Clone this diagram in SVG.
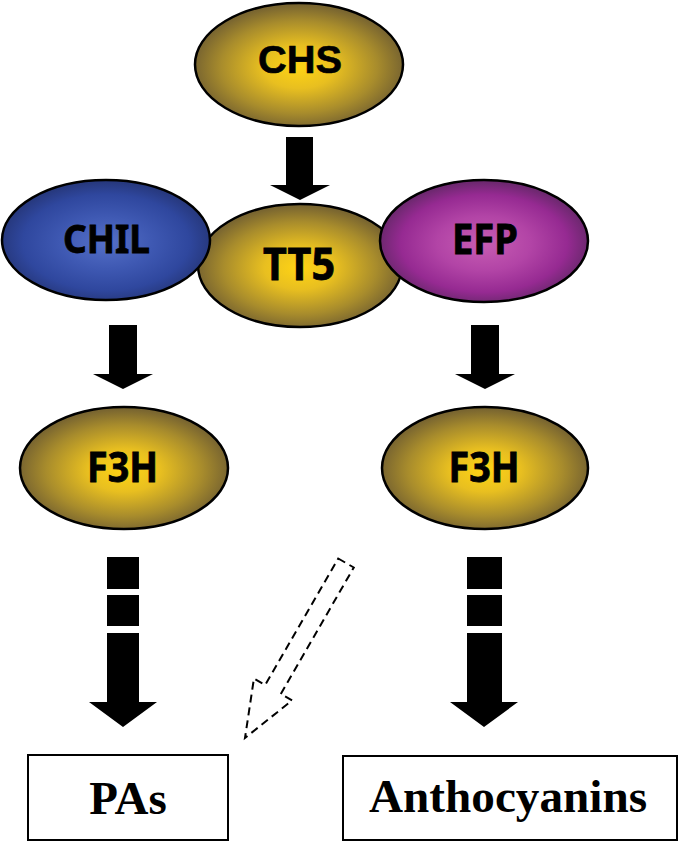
<svg xmlns="http://www.w3.org/2000/svg" width="680" height="844" viewBox="0 0 680 844">
<defs>
  <radialGradient id="gGold" cx="0.5" cy="0.52" r="0.5">
    <stop offset="0" stop-color="#FFD414"/>
    <stop offset="0.35" stop-color="#E8BF20"/>
    <stop offset="0.75" stop-color="#A88C2C"/>
    <stop offset="1" stop-color="#7A6630"/>
  </radialGradient>
  <radialGradient id="gBlue" cx="0.5" cy="0.52" r="0.5">
    <stop offset="0" stop-color="#5570C8"/>
    <stop offset="0.45" stop-color="#3E58B2"/>
    <stop offset="0.8" stop-color="#2F479E"/>
    <stop offset="1" stop-color="#27397F"/>
  </radialGradient>
  <radialGradient id="gPurple" cx="0.5" cy="0.52" r="0.5">
    <stop offset="0" stop-color="#C75DB3"/>
    <stop offset="0.45" stop-color="#B244A6"/>
    <stop offset="0.8" stop-color="#962A92"/>
    <stop offset="1" stop-color="#6E2870"/>
  </radialGradient>
</defs>
<style>
  .node { stroke: #000; stroke-width: 2.5; }
  .lbl { font-family: "Noto Sans", "Open Sans", sans-serif; font-weight: bold; fill: #000; stroke: #000; stroke-width: 0.8; text-anchor: middle; }
  .lblA { font-family: "Liberation Sans", Arial, sans-serif; font-weight: bold; fill: #000; stroke: #000; stroke-width: 0.6; text-anchor: middle; }
  .box { fill: #fff; stroke: #000; stroke-width: 2; }
  .boxt { font-family: "Liberation Serif", "Times New Roman", serif; font-weight: bold; font-size: 47px; fill: #000; text-anchor: middle; }
  .arr { fill: #000; stroke: none; }
  .dash { fill: none; stroke: #000; stroke-width: 2; stroke-dasharray: 8 5; }
</style>

<g id="CHS">
  <ellipse class="node" cx="299" cy="64.5" rx="104" ry="61.5" fill="url(#gGold)"/>
  <text class="lblA" x="300" y="73" font-size="39" textLength="84" lengthAdjust="spacingAndGlyphs">CHS</text>
</g>

<g id="TT5">
  <ellipse class="node" cx="300" cy="265.5" rx="102" ry="61.5" fill="url(#gGold)"/>
  <text class="lbl" x="299" y="280" font-size="44" textLength="72" lengthAdjust="spacingAndGlyphs">TT5</text>
</g>

<g id="CHIL">
  <ellipse class="node" cx="106" cy="240" rx="104" ry="60" fill="url(#gBlue)"/>
  <text class="lbl" x="106.5" y="253" font-size="40" textLength="87" lengthAdjust="spacingAndGlyphs">CHIL</text>
</g>

<g id="EFP">
  <ellipse class="node" cx="484" cy="241" rx="104" ry="61" fill="url(#gPurple)"/>
  <text class="lbl" x="485" y="254" font-size="41" textLength="66" lengthAdjust="spacingAndGlyphs">EFP</text>
</g>

<g id="F3H_left">
  <ellipse class="node" cx="124" cy="468" rx="104" ry="61" fill="url(#gGold)"/>
  <text class="lbl" x="122.5" y="482" font-size="41" textLength="71" lengthAdjust="spacingAndGlyphs">F3H</text>
</g>

<g id="F3H_right">
  <ellipse class="node" cx="485" cy="468" rx="103" ry="61" fill="url(#gGold)"/>
  <text class="lbl" x="484" y="482" font-size="41" textLength="71" lengthAdjust="spacingAndGlyphs">F3H</text>
</g>

<g id="PAs">
  <rect class="box" x="28" y="755" width="200" height="85"/>
  <text class="boxt" x="128" y="814">PAs</text>
</g>

<g id="Anthocyanins">
  <rect class="box" x="343" y="756" width="334" height="84"/>
  <text class="boxt" x="508" y="812" textLength="278" lengthAdjust="spacingAndGlyphs">Anthocyanins</text>
</g>

<g id="connectors">
  <!-- CHS -> TT5 -->
  <polygon class="arr" points="286,137 313,137 313,185 330,185 300,200 270,185 286,185"/>
  <!-- CHIL -> F3H -->
  <polygon class="arr" points="109,325 137,325 137,374 153,374 123,389 93,374 109,374"/>
  <!-- EFP -> F3H -->
  <polygon class="arr" points="471,325 499,325 499,374 515,374 485,389 455,374 471,374"/>
  <!-- F3H -> PAs (broken) -->
  <rect class="arr" x="107" y="557" width="32" height="32"/>
  <rect class="arr" x="107" y="595" width="32" height="31"/>
  <polygon class="arr" points="107,633 139,633 139,702 157,702 123,727 89,702 107,702"/>
  <!-- F3H -> Anthocyanins (broken) -->
  <rect class="arr" x="467" y="557" width="35" height="32"/>
  <rect class="arr" x="467" y="595" width="35" height="31"/>
  <polygon class="arr" points="467,633 502,633 502,702 518,702 484,727 450,702 467,702"/>
  <!-- dashed arrow toward PAs -->
  <polygon class="dash" transform="translate(346,563) rotate(30)" points="-9,0 9,0 9,146 22,146 0,202 -22,146 -9,146"/>
</g>
</svg>
